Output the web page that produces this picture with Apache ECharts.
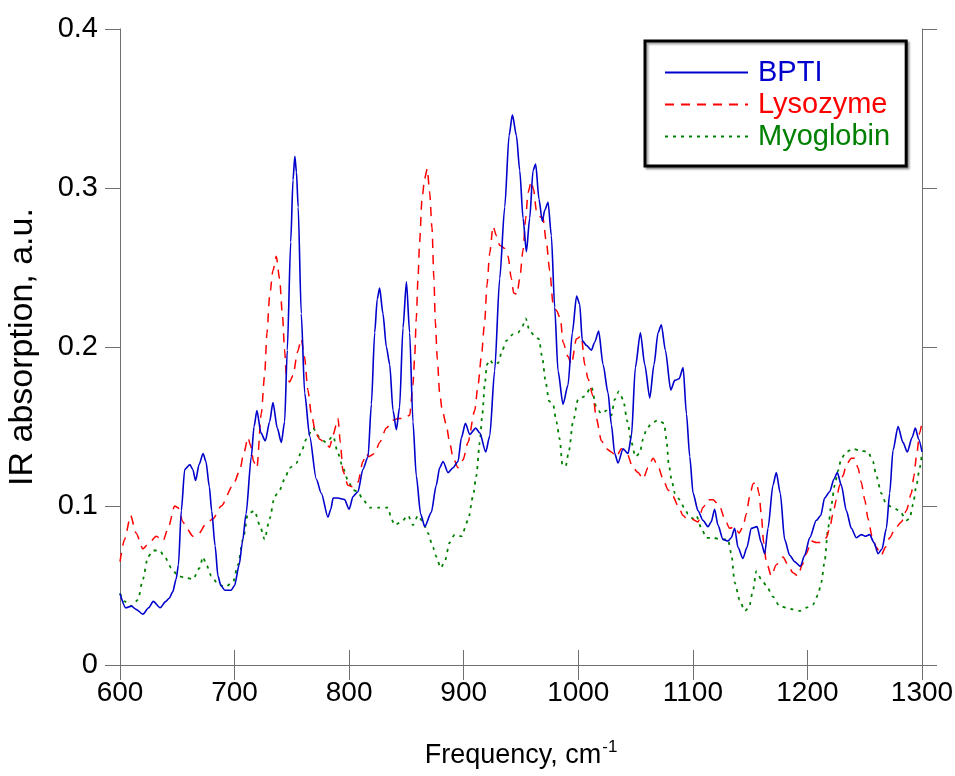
<!DOCTYPE html>
<html>
<head>
<meta charset="utf-8">
<script src="https://cdn.jsdelivr.net/npm/echarts@6/dist/echarts.min.js"></script>
<style>
html,body{margin:0;padding:0;background:#fff;}
#chart{width:955px;height:776px;}
</style>
</head>
<body>
<div id="chart"></div>
<script>
const seriesNames = ['BPTI', 'Lysozyme', 'Myoglobin'];
const xTicks = [600, 700, 800, 900, 1000, 1100, 1200, 1300];
const yTicks = [0, 0.1, 0.2, 0.3, 0.4];

const bpti = [[600,0.045],[605,0.036],[610,0.037],[614,0.035],[620,0.032],[625,0.036],[629,0.040],[635,0.036],[640,0.040],[643,0.042],[646,0.046],[649,0.054],[651,0.063],[653.5,0.097],[656.5,0.123],[661,0.126],[663.5,0.123],[666,0.116],[669,0.126],[672.5,0.133],[675,0.128],[678,0.112],[680,0.097],[683,0.075],[685.5,0.056],[688,0.050],[691.5,0.047],[697,0.047],[700,0.050],[704,0.063],[707,0.078],[710,0.095],[714.6,0.131],[717,0.150],[719.5,0.160],[723,0.146],[726.8,0.141],[730.6,0.153],[733.5,0.165],[737.3,0.149],[740.8,0.140],[743.7,0.153],[746,0.198],[749,0.266],[751,0.305],[752.6,0.320],[754,0.310],[755.5,0.288],[758.2,0.221],[761.2,0.171],[765.5,0.144],[771.3,0.117],[775.7,0.108],[781.5,0.093],[784,0.098],[786,0.105],[790,0.105],[796,0.104],[800,0.098],[803.4,0.106],[807.7,0.109],[812,0.123],[816.5,0.131],[819.4,0.164],[822.3,0.209],[824.5,0.230],[826.6,0.237],[829.5,0.221],[832.5,0.200],[835.4,0.189],[838.3,0.160],[841.2,0.148],[844,0.162],[847,0.212],[850,0.241],[852.8,0.209],[855.7,0.153],[858.6,0.119],[862.4,0.095],[866,0.087],[871.7,0.096],[876,0.113],[879,0.124],[882,0.128],[886.3,0.121],[890.6,0.124],[895,0.128],[898,0.143],[901.5,0.152],[905.2,0.145],[910.5,0.149],[914,0.146],[919.2,0.134],[922.7,0.144],[927,0.185],[931.4,0.243],[935.8,0.288],[939.6,0.333],[942.5,0.346],[946,0.333],[948.9,0.311],[951.8,0.281],[954.7,0.260],[957.6,0.281],[960.5,0.311],[962.8,0.315],[965.7,0.293],[968.6,0.279],[970.7,0.286],[973.6,0.291],[976.5,0.270],[979.4,0.225],[982.3,0.185],[986.7,0.164],[991,0.176],[994.8,0.209],[998.5,0.232],[1001.2,0.227],[1003.5,0.204],[1007.1,0.201],[1011.4,0.198],[1014.3,0.203],[1017.8,0.210],[1021.6,0.189],[1026,0.171],[1028.9,0.151],[1031.8,0.133],[1034.7,0.127],[1039.1,0.136],[1043.4,0.133],[1046.4,0.144],[1049.8,0.187],[1054.2,0.209],[1058,0.189],[1062.4,0.168],[1066.1,0.189],[1069.6,0.209],[1072.5,0.214],[1076,0.198],[1080.7,0.173],[1084.2,0.179],[1088,0.180],[1091.5,0.187],[1094.4,0.158],[1097.3,0.131],[1100.2,0.108],[1104.5,0.097],[1108.8,0.091],[1113.2,0.087],[1116,0.090],[1119,0.098],[1121.9,0.088],[1126.3,0.079],[1130.6,0.078],[1133.5,0.080],[1136.5,0.086],[1139.4,0.074],[1143.7,0.067],[1147.2,0.074],[1151,0.086],[1156,0.087],[1159.7,0.077],[1162.7,0.070],[1165.6,0.086],[1169.9,0.113],[1172.8,0.121],[1176.3,0.108],[1180.1,0.079],[1184.5,0.069],[1188.8,0.065],[1193.8,0.062],[1197.6,0.069],[1202,0.080],[1207.8,0.091],[1211.6,0.094],[1215,0.105],[1219.4,0.109],[1223.2,0.117],[1226.1,0.121],[1229.6,0.113],[1234,0.097],[1238.3,0.086],[1242.7,0.080],[1247.1,0.082],[1250.5,0.081],[1254.3,0.082],[1258.1,0.077],[1261.6,0.070],[1265.1,0.073],[1268.9,0.086],[1271.8,0.108],[1274.7,0.135],[1279.1,0.150],[1283.4,0.140],[1287.2,0.134],[1291.3,0.143],[1294.2,0.149],[1297.1,0.142],[1300,0.134]];

const lysozyme = [[600,0.065],[604,0.079],[609.3,0.094],[614,0.083],[620,0.073],[624.4,0.076],[631.7,0.081],[637.5,0.078],[642,0.086],[647.7,0.100],[650.6,0.099],[655,0.090],[658,0.086],[663.7,0.081],[668,0.082],[675.4,0.089],[681.2,0.092],[688.4,0.100],[698.6,0.113],[704.4,0.122],[708,0.133],[711.7,0.143],[714,0.138],[716.6,0.128],[719.5,0.124],[723.3,0.158],[726.2,0.182],[728.3,0.209],[730.6,0.232],[733.5,0.248],[736.4,0.257],[739.3,0.243],[741.7,0.221],[743.7,0.198],[745.2,0.182],[748,0.178],[751,0.182],[755,0.197],[758.2,0.205],[761,0.194],[764,0.173],[767,0.158],[770.8,0.146],[774.3,0.142],[778.6,0.140],[783,0.137],[786,0.145],[790.3,0.155],[792.3,0.140],[794.6,0.122],[799,0.113],[803.4,0.112],[807.7,0.115],[812,0.128],[815,0.133],[817,0.131],[822.3,0.133],[826.6,0.140],[832.5,0.149],[838.3,0.154],[842.6,0.155],[847,0.155],[852.8,0.157],[855.7,0.176],[857.2,0.194],[858.6,0.218],[860.1,0.243],[861.5,0.266],[863.6,0.293],[865.9,0.306],[868.2,0.312],[870.3,0.297],[872.3,0.275],[874,0.243],[875.2,0.216],[877,0.192],[879,0.171],[881.3,0.160],[884.8,0.151],[887.7,0.140],[890.6,0.131],[895,0.124],[899.4,0.129],[903.7,0.140],[909.6,0.160],[912.5,0.176],[915.4,0.194],[918.3,0.216],[920.3,0.239],[922.7,0.259],[925.6,0.276],[928.5,0.270],[931.4,0.264],[935.8,0.262],[938.7,0.257],[941.6,0.243],[943.6,0.234],[946.5,0.233],[948.9,0.243],[951.8,0.261],[954.1,0.281],[956.1,0.297],[959,0.304],[961,0.299],[963.4,0.286],[966.3,0.282],[969.2,0.281],[972.1,0.266],[975.1,0.248],[978,0.227],[980.9,0.223],[984.4,0.218],[986.7,0.203],[991,0.194],[994,0.189],[998.3,0.205],[1002.7,0.207],[1005.6,0.189],[1008.5,0.180],[1012.9,0.169],[1015.8,0.155],[1020.2,0.141],[1024.5,0.136],[1028.9,0.134],[1033.3,0.131],[1037.6,0.136],[1042,0.134],[1047.8,0.124],[1052.2,0.121],[1056.5,0.117],[1060.9,0.124],[1065.3,0.130],[1069.6,0.125],[1074,0.117],[1078.4,0.110],[1082.7,0.106],[1087.1,0.100],[1091.5,0.094],[1094.4,0.092],[1098.7,0.092],[1104.5,0.090],[1108.8,0.099],[1113.2,0.104],[1117.6,0.104],[1123.4,0.100],[1127.7,0.092],[1132.1,0.086],[1136.5,0.087],[1140.3,0.083],[1143.7,0.087],[1146.7,0.095],[1149.6,0.106],[1152.5,0.114],[1155.4,0.115],[1157.7,0.108],[1159.7,0.095],[1161.8,0.077],[1164.1,0.065],[1168.5,0.056],[1172.8,0.063],[1178.7,0.068],[1183,0.063],[1187.4,0.058],[1191.7,0.056],[1195.5,0.063],[1199,0.070],[1203.4,0.078],[1207.8,0.077],[1212.1,0.077],[1216.5,0.080],[1219.4,0.086],[1222.3,0.095],[1225.2,0.104],[1228.1,0.113],[1231,0.119],[1234,0.126],[1238.3,0.130],[1241.2,0.130],[1244.1,0.124],[1247,0.115],[1250,0.104],[1252.9,0.092],[1256.4,0.081],[1260.1,0.074],[1264.5,0.069],[1268,0.074],[1271.8,0.080],[1276.7,0.086],[1282,0.090],[1286.3,0.097],[1290.7,0.108],[1293,0.119],[1295.1,0.131],[1298,0.146],[1300,0.153]];

const myoglobin = [[600,0.045],[604,0.040],[610,0.037],[615.7,0.041],[620,0.054],[624.4,0.068],[628.8,0.072],[634.6,0.072],[639,0.068],[644.8,0.061],[650.6,0.056],[656.4,0.055],[663.7,0.054],[669.5,0.061],[672.4,0.068],[675.4,0.063],[679.7,0.056],[685.5,0.051],[691.4,0.049],[698.6,0.052],[703,0.063],[707.3,0.079],[711.7,0.095],[717.5,0.097],[721.9,0.088],[726.2,0.079],[730.6,0.092],[735,0.106],[739.3,0.110],[743.7,0.117],[748,0.124],[754,0.127],[758.2,0.134],[762.6,0.142],[768.4,0.149],[774.3,0.143],[780,0.140],[786,0.144],[790.3,0.133],[794.6,0.124],[799,0.116],[803.4,0.110],[807.7,0.109],[812,0.104],[818,0.099],[826.6,0.099],[834,0.099],[836.8,0.092],[839.7,0.088],[845.5,0.090],[851.4,0.094],[855.7,0.088],[860.1,0.094],[864.5,0.090],[868.8,0.083],[873.2,0.074],[876.1,0.068],[879.9,0.061],[883.4,0.065],[887.7,0.077],[892.1,0.082],[898,0.081],[903.8,0.091],[908.1,0.106],[911,0.119],[914,0.140],[916.3,0.158],[918.3,0.176],[920.3,0.189],[922.7,0.192],[926.2,0.189],[930,0.190],[933.7,0.198],[937.2,0.204],[943,0.208],[947.4,0.209],[951.2,0.213],[954.1,0.218],[957.6,0.210],[962,0.207],[965.7,0.205],[968.6,0.193],[971.5,0.178],[974.5,0.166],[978,0.164],[980.9,0.153],[983.8,0.142],[986.1,0.126],[989,0.125],[991.9,0.135],[995.4,0.153],[999.8,0.167],[1005.6,0.169],[1011.4,0.175],[1015.8,0.162],[1020.2,0.158],[1024.5,0.160],[1028.9,0.157],[1031.8,0.167],[1035.3,0.172],[1039.1,0.167],[1042.9,0.153],[1046.4,0.140],[1049.8,0.131],[1053.6,0.133],[1056.5,0.142],[1059.4,0.148],[1063.8,0.152],[1069.6,0.154],[1074.9,0.152],[1076.9,0.142],[1079,0.126],[1081.3,0.117],[1084.2,0.108],[1088.5,0.104],[1092.3,0.099],[1095.8,0.095],[1100.2,0.092],[1103,0.094],[1107.4,0.086],[1111.7,0.080],[1117.6,0.080],[1124.8,0.079],[1130.6,0.079],[1133.6,0.070],[1136.5,0.052],[1140.8,0.041],[1145.2,0.034],[1149,0.036],[1152.5,0.047],[1155.4,0.059],[1159.7,0.054],[1164.1,0.050],[1169.9,0.043],[1175.7,0.037],[1181.6,0.036],[1187.4,0.035],[1193.2,0.034],[1199,0.036],[1204.9,0.038],[1209.2,0.044],[1212.1,0.052],[1215,0.065],[1218,0.086],[1220.9,0.101],[1223.8,0.113],[1226.7,0.122],[1229.6,0.130],[1234,0.134],[1239.8,0.136],[1245.6,0.135],[1252.9,0.134],[1257.2,0.128],[1260.1,0.119],[1264.5,0.108],[1268.9,0.101],[1274.7,0.099],[1280.5,0.097],[1286.3,0.091],[1289.2,0.092],[1292.2,0.101],[1295.1,0.113],[1298,0.124],[1300,0.133]];

const colors = ['#0000cc', '#ff0000', '#008000'];
const FONT = 'Liberation Sans, Arial, sans-serif';
const frameColor = '#707070';

const chart = echarts.init(document.getElementById('chart'), null, {renderer: 'canvas'});

function axisCommon(extra) {
  return Object.assign({
    axisLine: {show: true, lineStyle: {color: frameColor, width: 1}},
    axisTick: {show: true, inside: false, length: 15, lineStyle: {color: frameColor, width: 1}},
    splitLine: {show: false}
  }, extra);
}

const option = {
  animation: false,
  backgroundColor: '#ffffff',
  grid: {left: 120, right: 33, top: 29, bottom: 111, containLabel: false, outerBoundsMode: 'none'},
  xAxis: [
    axisCommon({
      type: 'value', min: xTicks[0], max: xTicks[xTicks.length - 1], interval: 100,
      position: 'bottom',
      axisLabel: {show: true, margin: 14, fontSize: 28, fontFamily: FONT, color: '#000',
        formatter: v => String(v)},
      name: '{a|Frequency, cm}{b|-1}',
      nameLocation: 'middle', nameGap: 74,
      nameTextStyle: {
        rich: {
          a: {fontSize: 27, fontFamily: FONT, color: '#000', lineHeight: 34},
          b: {fontSize: 17, fontFamily: FONT, color: '#000', verticalAlign: 'top', lineHeight: 34, padding: [0, 0, 22, 1]}
        }
      }
    }),
    axisCommon({
      type: 'value', min: xTicks[0], max: xTicks[xTicks.length - 1], interval: 100,
      position: 'top', axisLabel: {show: false}
    })
  ],
  yAxis: [
    axisCommon({
      type: 'value', min: yTicks[0], max: yTicks[yTicks.length - 1], interval: 0.1,
      position: 'left',
      axisLabel: {show: true, margin: 22, fontSize: 29, fontFamily: FONT, color: '#000',
        formatter: v => String(Math.round(v * 10) / 10)},
      name: 'IR absorption, a.u.',
      nameLocation: 'middle', nameGap: 80,
      nameTextStyle: {fontSize: 34, fontFamily: FONT, color: '#000'}
    }),
    axisCommon({
      type: 'value', min: yTicks[0], max: yTicks[yTicks.length - 1], interval: 0.1,
      position: 'right', axisLabel: {show: false}
    })
  ],
  legend: {
    show: true,
    orient: 'vertical',
    left: 645, top: 41,
    padding: [17, 16, 15, 19],
    itemGap: 3,
    itemWidth: 83, itemHeight: 14,
    borderColor: '#000', borderWidth: 3,
    backgroundColor: '#fff',
    shadowColor: 'rgba(0,0,0,0.35)', shadowBlur: 2, shadowOffsetX: 2, shadowOffsetY: 2,
    itemStyle: {opacity: 0},
    textStyle: {fontSize: 29, fontFamily: FONT, padding: [0, 0, 0, 5]},
    data: seriesNames.map((n, i) => ({name: n, textStyle: {color: colors[i]}}))
  },
  series: [
    {name: seriesNames[0], type: 'line', data: bpti, symbol: 'none', smooth: 0.25, smoothMonotone: 'x',
      lineStyle: {color: colors[0], width: 1.6, type: 'solid'}, itemStyle: {color: colors[0]}, z: 4},
    {name: seriesNames[1], type: 'line', data: lysozyme, symbol: 'none', smooth: 0.25, smoothMonotone: 'x',
      lineStyle: {color: colors[1], width: 1.5, type: [9, 7]}, itemStyle: {color: colors[1]}, z: 3},
    {name: seriesNames[2], type: 'line', data: myoglobin, symbol: 'none', smooth: 0.25, smoothMonotone: 'x',
      lineStyle: {color: colors[2], width: 1.8, type: [3, 5]}, itemStyle: {color: colors[2]}, z: 2}
  ]
};
chart.setOption(option);
</script>
</body>
</html>
